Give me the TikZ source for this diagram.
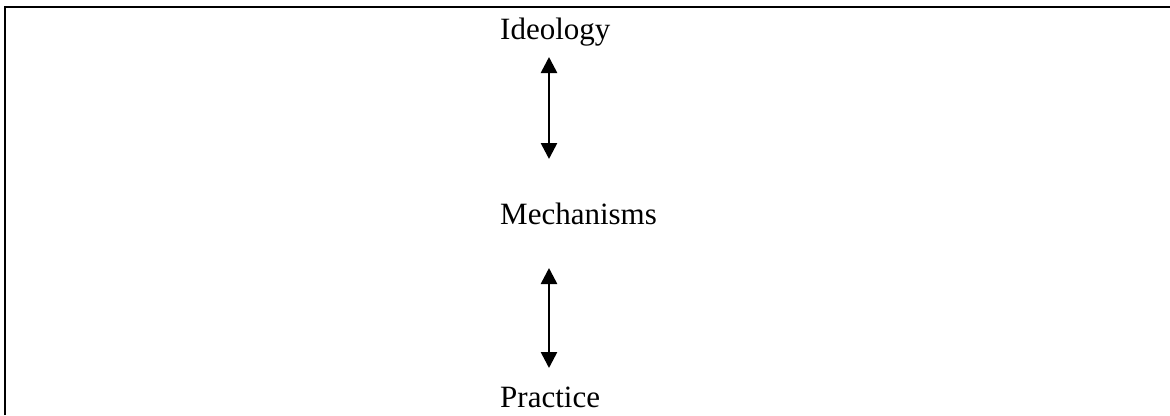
\documentclass[tikz,border=0pt]{standalone}
\usepackage{fontspec}
\setmainfont{Liberation Serif}
\usetikzlibrary{arrows.meta}

\begin{document}
\begin{tikzpicture}
[x=1pt,y=-1pt,
  labelDecorate/.style={anchor=base west,inner sep=0pt,font=\fontsize{31}{37}\selectfont},%
  arrowDecorate/.style={{Triangle[width=16pt,length=16pt]}-{Triangle[width=16pt,length=16pt]},line width=2.6pt},%
  frameDecorate/.style={line width=2.6pt}]
\useasboundingbox (0,0) rectangle (1170,415);
%% frame
\draw[frameDecorate] (5,415) -- (5,7) -- (1170,7);
%% labels
\foreach \nodename/\y/\txt in {ideology/39/Ideology, mechanisms/224/Mechanisms, practice/407/Practice}
{
  \node (\nodename) at (500,\y) [labelDecorate] {\txt};
}
%% arrow ends
\foreach \endname/\y in {upA/57, upB/159, lowA/268, lowB/368}
{
  \coordinate (\endname) at (549,\y);
}
%% arrows
\path
\foreach \startnode/\endnode in {upA/upB, lowA/lowB}
{
  (\startnode) edge[arrowDecorate] (\endnode)
};
\end{tikzpicture}
\end{document}
